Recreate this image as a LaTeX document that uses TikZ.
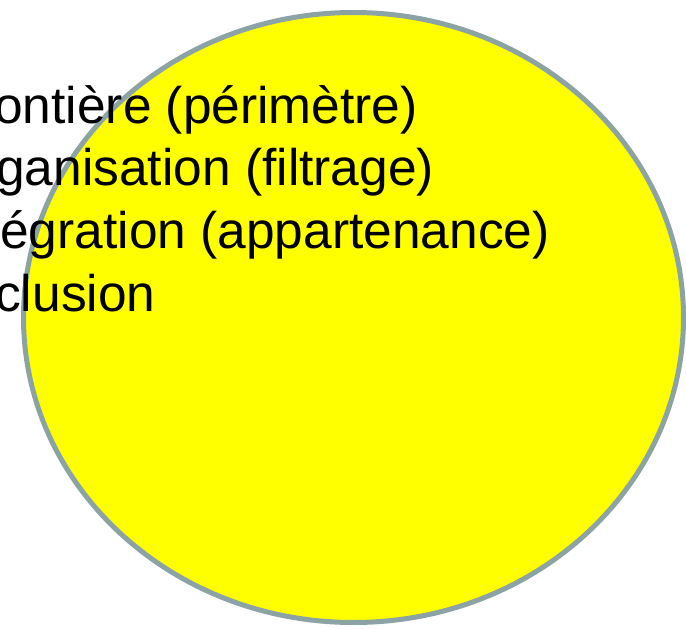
\documentclass[tikz,border=0pt]{standalone}
\usepackage{fontspec}
\setmainfont{Liberation Sans}
\definecolor{rimgray}{RGB}{140,163,166}
\definecolor{sunyellow}{RGB}{255,255,0}
\begin{document}
\begin{tikzpicture}[x=1pt,y=-1pt,
  item/.style={anchor=base west,inner sep=0pt,font=\fontsize{51.5}{60}\selectfont}]
  \useasboundingbox (0,0) rectangle (686,629);
  \clip (0,0) rectangle (686,629);
  \draw [rimgray,line width=5pt,fill=sunyellow] (353.5,317.5) ellipse (330 and 305);
  \node [item] at (-6,123) (front) {ontière (périmètre)};
  \node [item] at (-4,185) (organ) {ganisation (filtrage)};
  \node [item] at (0,248) (integ) {égration (appartenance)};
  \node [item] at (-5,311) (exclu) {clusion};
\end{tikzpicture}
\end{document}
